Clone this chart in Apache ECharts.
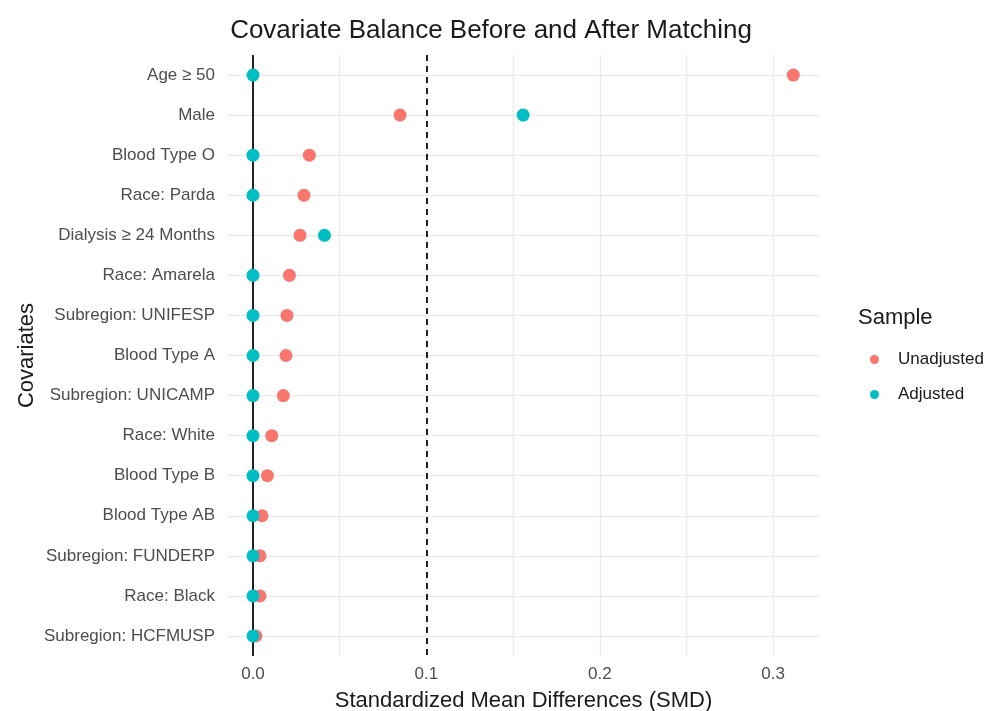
<!DOCTYPE html>
<html>
<head>
<meta charset="utf-8">
<script src="https://cdn.jsdelivr.net/npm/echarts@6/dist/echarts.min.js"></script>
<style>html,body{margin:0;padding:0;background:#fff}#c{width:992px;height:711px}</style>
</head>
<body>
<div id="c"></div>
<script>
var categories = ["Age \u2265 50","Male","Blood Type O","Race: Parda","Dialysis \u2265 24 Months","Race: Amarela","Subregion: UNIFESP","Blood Type A","Subregion: UNICAMP","Race: White","Blood Type B","Blood Type AB","Subregion: FUNDERP","Race: Black","Subregion: HCFMUSP"];
var unadjusted = [0.3116,0.0848,0.0325,0.0294,0.0271,0.0210,0.0196,0.0190,0.0175,0.0108,0.0083,0.0052,0.0040,0.0040,0.0017];
var adjusted = [0.0,0.1558,0.0,0.0,0.0412,0.0,0.0,0.0,0.0,0.0,0.0,0.0,0.0,0.0,0.0];
var xTickLabels = [0.0,0.1,0.2,0.3];
var xGridValues = [0.05,0.1,0.15,0.2,0.25,0.3];
var threshold = 0.1;

var FONT = "'Liberation Sans', Arial, sans-serif";
var chart = echarts.init(document.getElementById('c'), null, {renderer:'canvas'});

function pairs(vals){ return vals.map(function(v,i){ return [v, categories[i]]; }); }

var gridLines = categories.map(function(c){ return {yAxis:c}; })
  .concat(xGridValues.map(function(v){ return {xAxis:v}; }));

var option = {
  backgroundColor:'#ffffff',
  animation:false,
  title:[
    {text:'Covariate Balance Before and After Matching', left:486, top:13, textAlign:'center',
     textStyle:{fontFamily:FONT,fontSize:26,fontWeight:'normal',color:'#1a1a1a'}},
    {text:'Sample', left:853, top:302,
     textStyle:{fontFamily:FONT,fontSize:22,fontWeight:'normal',color:'#1a1a1a'}}
  ],
  grid:{left:227, right:172, top:55, bottom:55, containLabel:false, outerBoundsMode:'none'},
  legend:{
    orient:'vertical', left:865, top:345, icon:'circle', itemWidth:9, itemHeight:9, itemGap:16,
    data:['Unadjusted','Adjusted'],
    textStyle:{fontFamily:FONT,fontSize:17,color:'#1a1a1a',lineHeight:19,padding:[0,0,0,14]}
  },
  xAxis:{
    type:'value', min:-0.015, max:0.327,
    name:'Standardized Mean Differences (SMD)', nameLocation:'middle', nameGap:34, nameMoveOverlap:false,
    nameTextStyle:{fontFamily:FONT,fontSize:22,color:'#1a1a1a'},
    axisLine:{show:false}, axisTick:{show:false}, splitLine:{show:false},
    axisLabel:{customValues:xTickLabels, fontFamily:FONT,fontSize:17,color:'#4d4d4d',margin:10,
      formatter:function(v){ return Number(v).toFixed(1); }}
  },
  yAxis:{
    type:'category', data:categories, inverse:true, boundaryGap:true,
    name:'Covariates', nameLocation:'middle', nameGap:189, nameRotate:90, nameMoveOverlap:false,
    nameTextStyle:{fontFamily:FONT,fontSize:22,color:'#1a1a1a'},
    axisLine:{show:false}, axisTick:{show:false}, splitLine:{show:false},
    axisLabel:{fontFamily:FONT,fontSize:17,color:'#4d4d4d',margin:12}
  },
  series:[
    {
      name:'grid', type:'scatter', data:[], silent:true, z:1,
      markLine:{silent:true, z:1, symbol:'none', label:{show:false}, animation:false,
        lineStyle:{color:'#ebebeb', width:1.4, type:'solid'}, data:gridLines}
    },
    {
      name:'refs', type:'scatter', data:[], silent:true, z:2,
      markLine:{silent:true, z:2, symbol:'none', label:{show:false}, animation:false,
        data:[
          {xAxis:0, lineStyle:{color:'#222', width:2, type:'solid'}},
          {xAxis:threshold, lineStyle:{color:'#222', width:2, type:[6,5]}}
        ]}
    },
    {
      name:'Unadjusted', type:'scatter', data:pairs(unadjusted), symbolSize:13, z:6,
      itemStyle:{color:'#F8766D', opacity:1}
    },
    {
      name:'Adjusted', type:'scatter', data:pairs(adjusted), symbolSize:13, z:7,
      itemStyle:{color:'#00BFC4', opacity:1}
    }
  ]
};
chart.setOption(option);
</script>
</body>
</html>
